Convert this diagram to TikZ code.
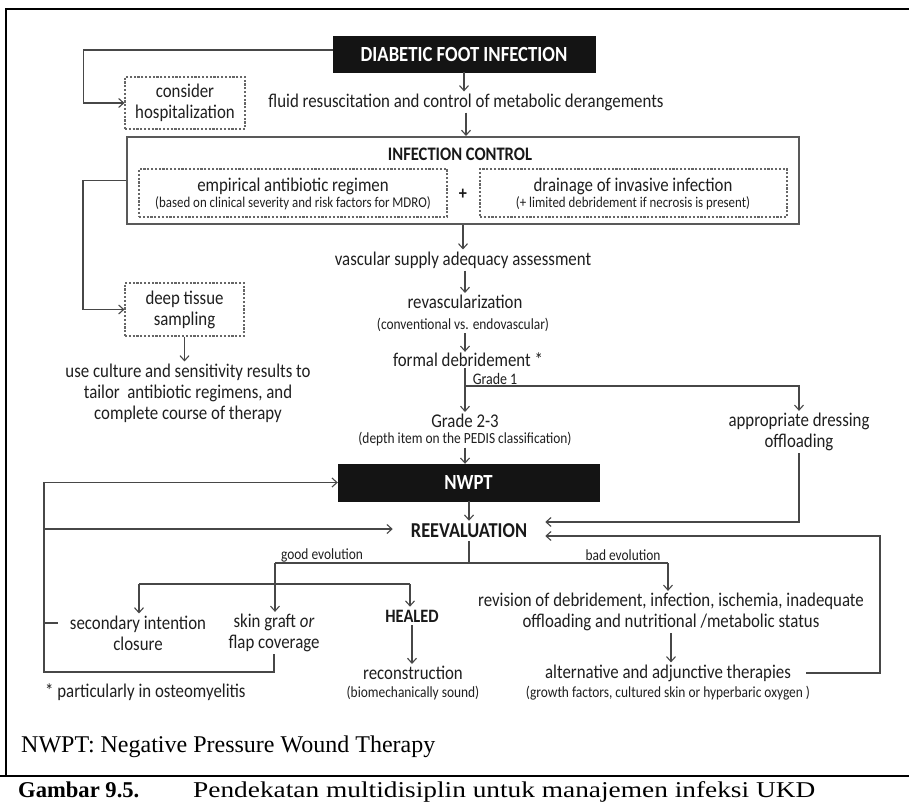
\documentclass[tikz,border=0pt]{standalone}
\usepackage{fontspec}
\usepackage{graphicx}
\setmainfont{Liberation Serif}
\newfontfamily\calfont[FakeStretch=0.865]{Carlito}
\usetikzlibrary{arrows.meta}
\begin{document}
\begin{tikzpicture}[x=1pt,y=-1pt,
  line/.style={draw=black!72, line width=1.3pt},
  arr/.style={line, -{Straight Barb[length=5pt,width=9pt,line width=1.1pt]}},
  txt/.style={font=\calfont\fontsize{19.45}{21}\selectfont, text=black!88, align=center, inner sep=2pt},
  sml/.style={font=\calfont\fontsize{15.5}{17}\selectfont, text=black!88, align=center, inner sep=1.5pt},
  ttl/.style={font=\calfont\bfseries\fontsize{21.6}{24}\selectfont, text=black!90, align=center, inner sep=3pt},
  blackbox/.style={fill=black!92, draw=black!92, text=white, inner sep=0pt},
  dashbox/.style={draw=black!60, line width=1.1pt, dash pattern=on 2.2pt off 1.6pt, inner sep=0pt},
]
\useasboundingbox (0,0) rectangle (909,802);
\fill[white] (0,0) rectangle (909,802);

% frame
\draw[line width=2.5pt] (5,9) -- (909,9);
\draw[line width=2.5pt] (6,9) -- (6,776);
\draw[line width=2.8pt] (0,776) -- (909,776);

% top
\node[ttl, blackbox, minimum width=262pt, minimum height=36pt] (dfi) at (464,54) {DIABETIC FOOT INFECTION};
\node[txt, dashbox, minimum width=120pt, minimum height=52pt] (hosp) at (185,103) {consider\\hospitalization};
\node[txt] (fluid) at (466,102) {fluid resuscitation and control of metabolic derangements};

% infection control
\node[draw=black!65, line width=2pt, minimum width=672pt, minimum height=87pt, inner sep=0pt] (ic) at (463,180.5) {};
\node[ttl, font=\calfont\bfseries\fontsize{19.1}{21}\selectfont] (ict) at (460,154) {INFECTION CONTROL};
\node[dashbox, minimum width=308pt, minimum height=48pt] (emp) at (293,193) {};
\node[txt] (empt) at (293,186) {empirical antibiotic regimen};
\node[sml, font=\calfont\fontsize{14.9}{17}\selectfont] (empn) at (293,203) {(based on clinical severity and risk factors for MDRO)};
\node[ttl, font=\calfont\bfseries\fontsize{18.7}{20}\selectfont] (plus) at (463,194) {+};
\node[dashbox, minimum width=307pt, minimum height=48pt] (drn) at (633.5,193) {};
\node[txt] (drnt) at (633,186) {drainage of invasive infection};
\node[sml, font=\calfont\fontsize{14.9}{17}\selectfont] (drnn) at (633,203) {(+ limited debridement if necrosis is present)};

% middle column
\node[txt] (vasc) at (463,260) {vascular supply adequacy assessment};
\node[txt] (revasc) at (465,302) {revascularization};
\node[sml] (conv) at (463,325) {(conventional vs. endovascular)};
\node[txt, inner sep=1pt] (formal) at (468,360) {formal debridement *};
\node[sml, inner sep=0.5pt, font=\calfont\fontsize{16.1}{17}\selectfont] (g1) at (495,379) {Grade 1};
\node[txt] (g23) at (465,421) {Grade 2-3};
\node[sml] (depth) at (465,439) {(depth item on the PEDIS classification)};
\node[txt] (dress) at (799,432) {appropriate dressing\\offloading};
\node[ttl, blackbox, minimum width=261pt, minimum height=37pt] (nwpt) at (468.5,482.5) {NWPT};
\node[ttl, font=\calfont\bfseries\fontsize{21.2}{24}\selectfont, inner xsep=18pt] (reeval) at (469,531) {REEVALUATION};

% left column
\node[txt, dashbox, minimum width=119pt, minimum height=53pt] (deep) at (184.5,309.5) {deep tissue\\sampling};
\node[txt] (cult) at (188,393) {use culture and sensitivity results to\\tailor\ \ antibiotic regimens, and\\complete course of therapy};

% evolution
\node[sml] (good) at (322,555) {good evolution};
\node[sml] (bad) at (623,555) {bad evolution};
\node[txt] (sec) at (138,633) {secondary intention\\closure};
\node[txt] (skin) at (274,633) {skin graft \textit{or}\\flap coverage};
\node[ttl, font=\calfont\bfseries\fontsize{18.9}{21}\selectfont] (healed) at (412,616) {HEALED};
\node[txt] (recon) at (413,673) {reconstruction};
\node[sml] (bio) at (413,693) {(biomechanically sound)};
\node[txt] (rev) at (671,612) {revision of debridement, infection, ischemia, inadequate\\offloading and nutritional /metabolic status};
\node[txt] (alt) at (668,673) {alternative and adjunctive therapies};
\node[sml] (grow) at (668,693) {(growth factors, cultured skin or hyperbaric oxygen )};
\node[txt, anchor=west, inner sep=0pt] (part) at (45,692) {* particularly in osteomyelitis};

% footnote and caption
\node[anchor=west, inner sep=0pt, font=\fontsize{24}{26}\selectfont] (foot) at (21,747) {NWPT: Negative Pressure Wound Therapy};
\node[anchor=base west, inner sep=0pt, font=\bfseries\fontsize{22.6}{24}\selectfont] (gam) at (18,797) {Gambar 9.5.};
\node[anchor=base west, inner sep=0pt, font=\fontsize{22.6}{24}\selectfont] (pen) at (193,797) {\scalebox{1.21}[1]{Pendekatan multidisiplin untuk manajemen infeksi UKD}};

% connectors top
\draw[arr] ([yshift=4pt]dfi.west) -- ++(-249,0) |- (hosp.west);
\draw[arr] (dfi.south) -- (dfi.south |- fluid.north);
\draw[arr] (fluid.south) -- (fluid.south |- ic.north);
\draw[arr] (ic.west) -- ++(-43,0) |- (deep.west);
\draw[arr] (deep.south) -- (deep.south |- cult.north);
\draw[arr] (vasc.north |- ic.south) -- (vasc.north);
\draw[arr] (vasc.south -| revasc.north) -- (revasc.north);
\draw[arr] (conv.south -| revasc.north) -- (revasc.north |- formal.north);
\coordinate (b1) at (465,386);
\draw[arr] (formal.south -| g23.north) -- (g23.north);
\draw[arr] (b1) -| (dress.north);
\draw[arr] (depth.south) -- (depth.south |- nwpt.north);
\draw[arr] (nwpt.south -| reeval.north) -- (reeval.north);

% right returns
\draw[arr] (dress.south) |- ([yshift=9pt]reeval.east);
\draw[arr] ([xshift=13pt]alt.east) -- (880,673) |- ([yshift=-5pt]reeval.east);

% left loop
\draw[arr] (skin.south) |- (44,672) |- (nwpt.west);
\draw[arr] (44,529) -- ([yshift=2pt]reeval.west);
\draw[line] ([xshift=-10pt,yshift=10pt]sec.west) -- (44,623);

% evolution tree
\coordinate (jl) at (275,563);
\coordinate (jr) at (668,563);
\coordinate (kl) at (139,584);
\coordinate (kr) at (410,584);
\draw[line] (reeval.south) -- (reeval.south |- jl);
\draw[line] (jl) -- (jr);
\draw[arr] (jl) -- (jl |- skin.north);
\draw[arr] (jr) -- (jr |- rev.north);
\draw[line] (kl) -- (kr);
\draw[arr] (kl) -- (kl |- sec.north);
\draw[arr] (kr) -- (kr |- healed.north);
\draw[arr] (healed.south) -- (healed.south |- recon.north);
\draw[arr] (rev.south) -- (rev.south |- alt.north);
\end{tikzpicture}
\end{document}
